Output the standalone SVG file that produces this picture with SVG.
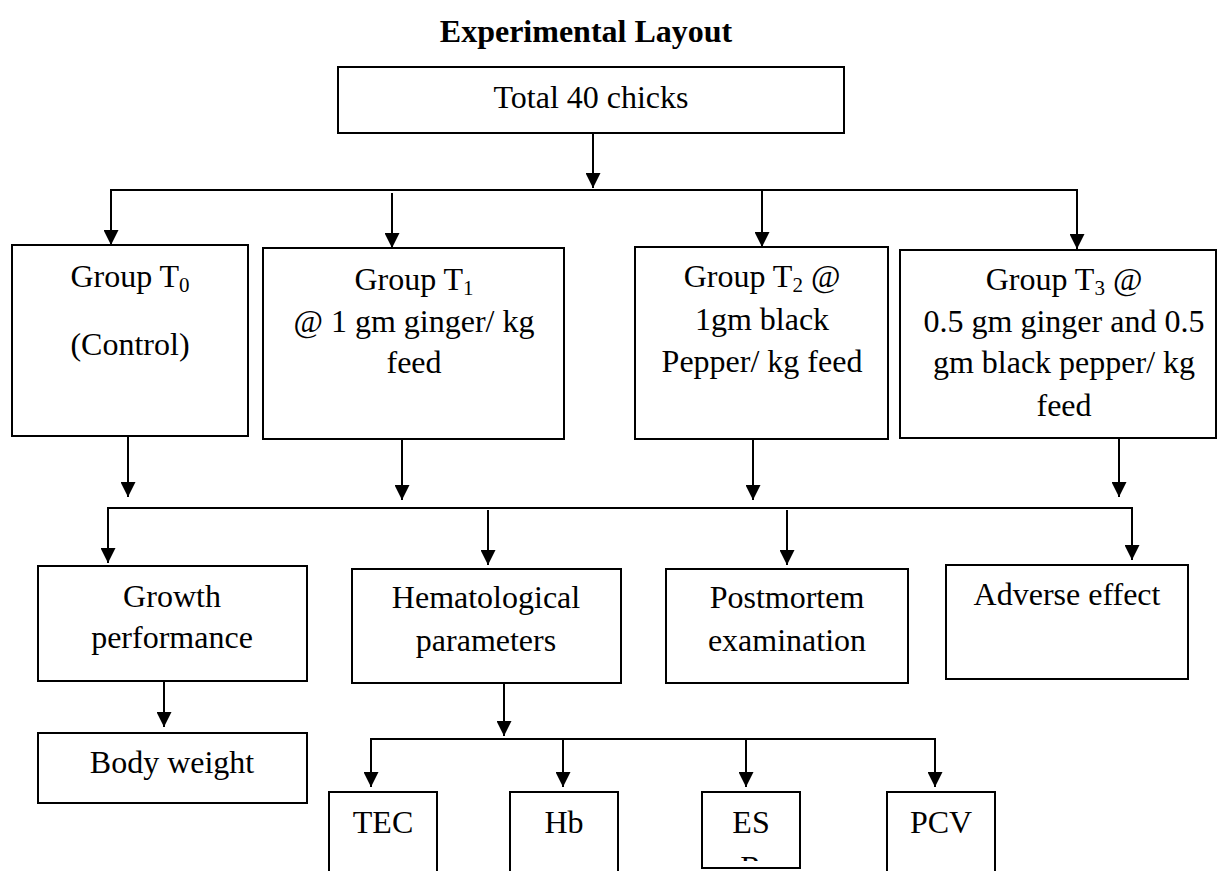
<svg xmlns="http://www.w3.org/2000/svg" width="1217" height="871" viewBox="0 0 1217 871">
<style>
.box{fill:#fff;stroke:#000;stroke-width:2}
.t{font-family:"Liberation Serif","Times New Roman",serif;font-size:32px;fill:#000;text-anchor:middle}
.title{font-family:"Liberation Serif","Times New Roman",serif;font-size:32px;font-weight:bold;fill:#000;text-anchor:middle}
.c{fill:none;stroke:#000;stroke-width:2}
</style>
<defs>
<marker id="ah" markerUnits="userSpaceOnUse" markerWidth="15" markerHeight="15" refX="15" refY="7.5" orient="auto">
<path d="M0,0 L15,7.5 L0,15 z" fill="#000"/>
</marker>
<clipPath id="esclip"><rect x="702" y="792" width="98" height="69"/></clipPath>
</defs>
<rect width="1217" height="871" fill="#fff"/>
<text class="title" x="586" y="42">Experimental Layout</text>

<g id="total"><rect class="box" x="338" y="67" width="506" height="66"/><text class="t" x="591" y="108">Total 40 chicks</text></g>

<g id="t0"><rect class="box" x="12" y="245" width="236" height="191"/>
<text class="t" x="130" y="287">Group T<tspan font-size="21" dy="5">0</tspan></text>
<text class="t" x="130" y="355">(Control)</text></g>

<g id="t1"><rect class="box" x="263" y="248" width="301" height="191"/>
<text class="t" x="414" y="290">Group T<tspan font-size="21" dy="5">1</tspan></text>
<text class="t" x="414" y="332">@ 1 gm ginger/ kg</text>
<text class="t" x="414" y="373">feed</text></g>

<g id="t2"><rect class="box" x="635" y="247" width="253" height="192"/>
<text class="t" x="762" y="287">Group T<tspan font-size="21" dy="5">2</tspan><tspan dy="-5"> @</tspan></text>
<text class="t" x="762" y="330">1gm black</text>
<text class="t" x="762" y="372">Pepper/ kg feed</text></g>

<g id="t3"><rect class="box" x="900" y="250" width="316" height="188"/>
<text class="t" x="1064" y="290">Group T<tspan font-size="21" dy="5">3</tspan><tspan dy="-5"> @</tspan></text>
<text class="t" x="1064" y="332">0.5 gm ginger and 0.5</text>
<text class="t" x="1064" y="373">gm black pepper/ kg</text>
<text class="t" x="1064" y="416">feed</text></g>

<g id="growth"><rect class="box" x="38" y="566" width="269" height="115"/>
<text class="t" x="172" y="607">Growth</text>
<text class="t" x="172" y="648">performance</text></g>

<g id="hemat"><rect class="box" x="352" y="569" width="269" height="114"/>
<text class="t" x="486" y="608">Hematological</text>
<text class="t" x="486" y="651">parameters</text></g>

<g id="postmortem"><rect class="box" x="666" y="569" width="242" height="114"/>
<text class="t" x="787" y="608">Postmortem</text>
<text class="t" x="787" y="651">examination</text></g>

<g id="adverse"><rect class="box" x="946" y="565" width="242" height="114"/>
<text class="t" x="1067" y="605">Adverse effect</text></g>

<g id="bodyweight"><rect class="box" x="38" y="733" width="269" height="70"/>
<text class="t" x="172" y="773">Body weight</text></g>

<g id="tec"><rect class="box" x="329" y="792" width="108" height="90"/>
<text class="t" x="383" y="833">TEC</text></g>

<g id="hb"><rect class="box" x="510" y="792" width="108" height="90"/>
<text class="t" x="564" y="833">Hb</text></g>

<g id="esr"><rect class="box" x="702" y="792" width="98" height="76"/>
<text class="t" x="751" y="833">ES</text>
<text class="t" x="751" y="878" clip-path="url(#esclip)">R</text></g>

<g id="pcv"><rect class="box" x="887" y="792" width="108" height="90"/>
<text class="t" x="941" y="833">PCV</text></g>

<g id="connectors">
<path class="c" d="M593,133 V188" marker-end="url(#ah)"/>
<path class="c" d="M111,245 V190 H1077 V249" marker-end="url(#ah)"/>
<path class="c" d="M111,190 V245" marker-end="url(#ah)"/>
<path class="c" d="M392,193 V248" marker-end="url(#ah)"/>
<path class="c" d="M762,190 V247" marker-end="url(#ah)"/>
<path class="c" d="M128,436 V497" marker-end="url(#ah)"/>
<path class="c" d="M402,439 V500" marker-end="url(#ah)"/>
<path class="c" d="M753,439 V500" marker-end="url(#ah)"/>
<path class="c" d="M1119,437 V497" marker-end="url(#ah)"/>
<path class="c" d="M108,563 V508 H1132 V560" marker-end="url(#ah)"/>
<path class="c" d="M108,508 V563" marker-end="url(#ah)"/>
<path class="c" d="M488,510 V565" marker-end="url(#ah)"/>
<path class="c" d="M787,510 V565" marker-end="url(#ah)"/>
<path class="c" d="M164,681 V727" marker-end="url(#ah)"/>
<path class="c" d="M504,683 V736" marker-end="url(#ah)"/>
<path class="c" d="M371,787 V739 H935 V787" marker-end="url(#ah)"/>
<path class="c" d="M371,739 V787" marker-end="url(#ah)"/>
<path class="c" d="M563,739 V787" marker-end="url(#ah)"/>
<path class="c" d="M746,739 V787" marker-end="url(#ah)"/>
</g>
</svg>
